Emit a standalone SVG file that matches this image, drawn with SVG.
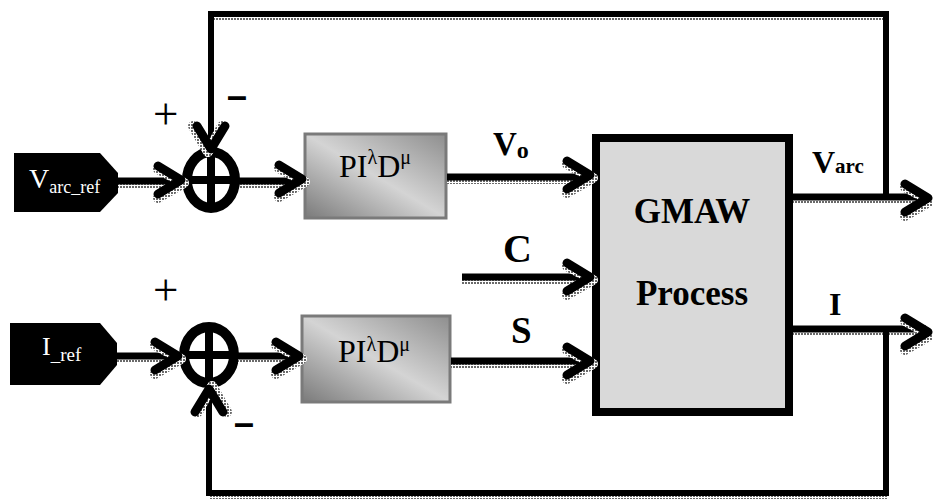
<svg xmlns="http://www.w3.org/2000/svg" xmlns:xlink="http://www.w3.org/1999/xlink" width="933" height="501" viewBox="0 0 933 501">
<defs>
<pattern id="hatch" width="3" height="3" patternUnits="userSpaceOnUse"><rect width="3" height="3" fill="#ffffff"/><rect width="2" height="2" fill="#6a6a6a"/></pattern>
<linearGradient id="pidg" x1="0" y1="1" x2="1" y2="0"><stop offset="0" stop-color="#7a7a7a"/><stop offset="0.5" stop-color="#d4d4d4"/><stop offset="1" stop-color="#8e8e8e"/></linearGradient>
<g id="arr">
<polyline points="-25,-11 1,3 -25,18" fill="none" stroke="url(#hatch)" stroke-width="10" stroke-linecap="round" stroke-linejoin="round"/>
<polyline points="-25,-14 -2,0 -25,14" fill="none" stroke="#000" stroke-width="9" stroke-linecap="round" stroke-linejoin="round"/>
</g>
</defs>
<style>
.blk{fill:none;stroke:#000;stroke-width:7}
.fb{fill:none;stroke:#000;stroke-width:6}
.sh{fill:none;stroke:url(#hatch);stroke-width:4}
.pid{fill:url(#pidg);stroke:#7a7a7a;stroke-width:3}
.ref{fill:#000}
.sum{fill:#fff;stroke:#000;stroke-width:10}
.cross{stroke:#000;stroke-width:8}
.tr{font-family:'Liberation Serif','Tinos','Times New Roman','DejaVu Serif',serif}
.b{font-family:'Liberation Serif','Tinos','Times New Roman','DejaVu Serif',serif;font-weight:bold}
.sign{font-family:'Liberation Sans',Arial,sans-serif;font-weight:bold;font-size:32px}
</style>
<rect width="933" height="501" fill="#fff"/>
<g id="nodes">
<g id="varef">
<polygon class="ref" points="14,153 100,153 118,173 118,193 100,212 14,212"/>
<text class="tr" x="29" y="188" fill="#fff" font-size="28">V<tspan font-size="18" dy="5">arc_ref</tspan></text>
</g>
<g id="iref">
<polygon class="ref" points="10,323 100,323 117,343 117,365 100,385 10,385"/>
<text class="tr" x="42" y="355" fill="#fff" font-size="26">I<tspan font-size="19" dy="6">_ref</tspan></text>
</g>
<g id="sum1">
<ellipse class="sum" cx="211" cy="180" rx="24" ry="28"/>
<line class="cross" x1="211" y1="152" x2="211" y2="208"/>
<line class="cross" x1="187" y1="180" x2="235" y2="180"/>
</g>
<g id="sum2">
<ellipse class="sum" cx="209" cy="355" rx="25" ry="28"/>
<line class="cross" x1="209" y1="327" x2="209" y2="383"/>
<line class="cross" x1="184" y1="355" x2="234" y2="355"/>
</g>
<g id="pid1">
<rect class="pid" x="305" y="134" width="141" height="84"/>
<text class="tr" x="339" y="177" font-size="32">PI<tspan font-size="20" dy="-13">λ</tspan><tspan dy="13">D</tspan><tspan font-size="20" dy="-13">μ</tspan></text>
</g>
<g id="pid2">
<rect class="pid" x="302" y="316" width="148" height="86"/>
<text class="tr" x="338" y="362" font-size="32">PI<tspan font-size="20" dy="-11">λ</tspan><tspan dy="11">D</tspan><tspan font-size="20" dy="-11">μ</tspan></text>
</g>
<g id="gmaw">
<rect x="596" y="138" width="193" height="274" fill="#d9d9d9" stroke="#000" stroke-width="8"/>
<text font-family="Liberation Serif" font-weight="bold" x="692" y="223" font-size="35" text-anchor="middle">GMAW</text>
<text class="b" x="692" y="305" font-size="35" text-anchor="middle">Process</text>
</g>
</g>
<g id="connectors">
<line class="sh" x1="118" y1="186" x2="176" y2="186"/><line class="blk" x1="118" y1="181" x2="178" y2="181"/>
<use xlink:href="#arr" transform="translate(183,180)"/>
<line class="sh" x1="240" y1="186" x2="297" y2="186"/><line class="blk" x1="238" y1="181" x2="300" y2="181"/>
<use xlink:href="#arr" transform="translate(304,179)"/>
<line class="sh" x1="447" y1="182" x2="585" y2="182"/><line class="blk" x1="447" y1="177" x2="588" y2="177"/>
<use xlink:href="#arr" transform="translate(592,175)"/>
<line class="sh" x1="462" y1="282" x2="585" y2="282"/><line class="blk" x1="462" y1="277" x2="588" y2="277"/>
<use xlink:href="#arr" transform="translate(592,277)"/>
<line class="sh" x1="451" y1="366" x2="585" y2="366"/><line class="blk" x1="451" y1="361" x2="588" y2="361"/>
<use xlink:href="#arr" transform="translate(592,361)"/>
<line class="sh" x1="117" y1="361" x2="173" y2="361"/><line class="blk" x1="117" y1="356" x2="175" y2="356"/>
<use xlink:href="#arr" transform="translate(180,356)"/>
<line class="sh" x1="238" y1="361" x2="294" y2="361"/><line class="blk" x1="236" y1="356" x2="297" y2="356"/>
<use xlink:href="#arr" transform="translate(301,356)"/>
<line class="sh" x1="793" y1="202" x2="922" y2="202"/><line class="blk" x1="793" y1="197" x2="926" y2="197"/>
<use xlink:href="#arr" transform="translate(930,198)"/>
<line class="sh" x1="793" y1="334" x2="922" y2="334"/><line class="blk" x1="793" y1="329" x2="926" y2="329"/>
<use xlink:href="#arr" transform="translate(930,332)"/>
<line class="sh" x1="211" y1="19" x2="884" y2="19"/>
<polyline class="fb" points="886,197 886,14 211,14 211,146"/>
<use xlink:href="#arr" transform="translate(211,151) rotate(90)"/>
<line class="sh" x1="209" y1="497" x2="888" y2="497"/>
<polyline class="fb" points="886,329 886,493 209,493 209,392"/>
<use xlink:href="#arr" transform="translate(209,387) rotate(-90)"/>
</g>
<g id="labels">
<text class="tr" x="153" y="129" font-size="45">+</text>
<text class="tr" x="153" y="305" font-size="45">+</text>
<text class="sign" text-anchor="middle" transform="translate(237,106) scale(2.2,1)">-</text>
<text class="sign" text-anchor="middle" transform="translate(244,433) scale(2.2,1)">-</text>
<text class="b" x="493" y="155" font-size="33">V<tspan font-size="24" dy="3">o</tspan></text>
<text class="b" x="503" y="262" font-size="40">C</text>
<text class="b" x="511" y="343" font-size="37">S</text>
<text class="b" x="812" y="173" font-size="32">V<tspan font-size="21">arc</tspan></text>
<text class="b" x="829" y="315" font-size="32">I</text>
</g>
</svg>
